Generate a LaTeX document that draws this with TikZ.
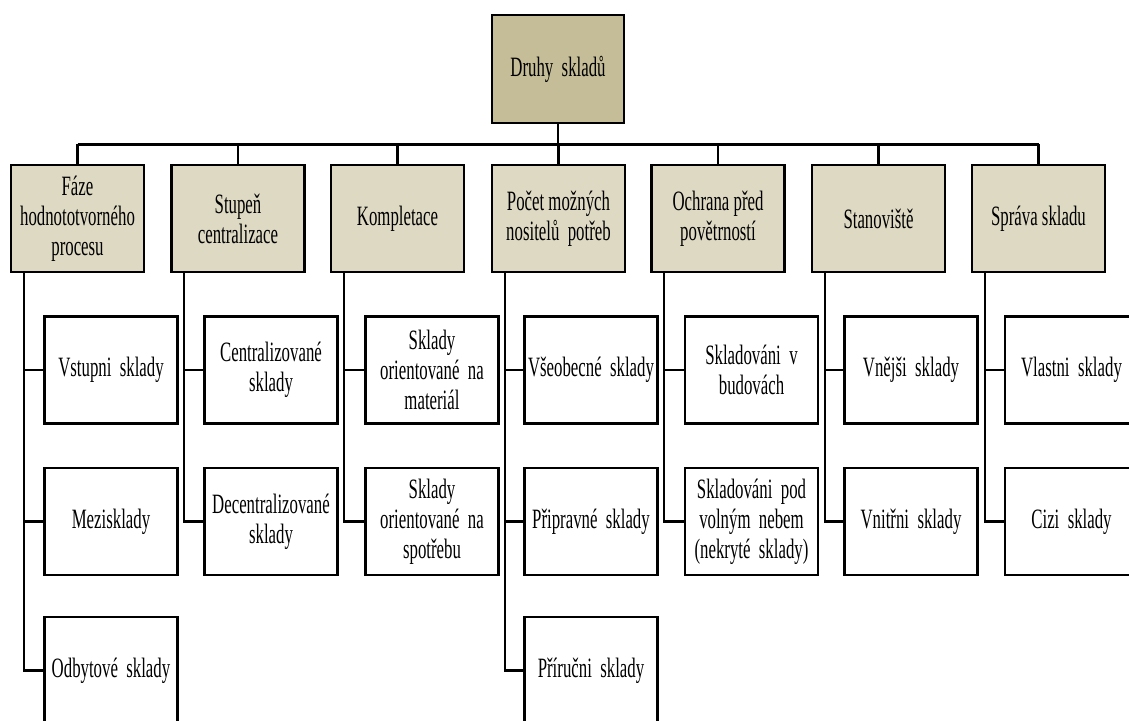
\documentclass[tikz,border=0pt]{standalone}
\usepackage{fontspec}
\setmainfont[FakeStretch=0.6]{Liberation Serif}
\usetikzlibrary{calc}

\definecolor{rootfill}{HTML}{C4BD97}
\definecolor{catfill}{HTML}{DDD9C3}

\tikzset{
  box/.style={rectangle, draw=black, line width=2.6pt, align=center,
    inner sep=0pt, minimum width=133pt, minimum height=107pt,
    font=\fontsize{28}{30}\selectfont},
  rootbox/.style={box, fill=rootfill, minimum width=132pt, minimum height=108pt},
  catbox/.style={box, fill=catfill},
  itembox/.style={box, fill=white},
  conn/.style={draw=black, line width=2.4pt},
  busline/.style={draw=black, line width=3pt},
}

\begin{document}
\begin{tikzpicture}[x=1pt, y=-1pt]
  \useasboundingbox (0,0) rectangle (1129,720);
  \clip (0,0) rectangle (1129,720);
  \fill[white] (0,0) rectangle (1129,720);

  % root
  \node[rootbox] (root) at (558,69) {Druhy\ \ skladů};

  % categories
  \node[catbox] (p1) at (77.5,218.5)  {Fáze\\hodnototvorného\\procesu};
  \node[catbox] (p2) at (238,218.5)   {Stupeň\\centralizace};
  \node[catbox] (p3) at (397.5,218.5) {Kompletace};
  \node[catbox] (p4) at (558.5,218.5) {Počet možných\\nositelů\ \ potřeb};
  \node[catbox] (p5) at (718,218.5)   {Ochrana před\\povětrností};
  \node[catbox] (p6) at (878.5,218.5) {Stanoviště};
  \node[catbox] (p7) at (1038.5,218.5){Správa skladu};

  % bus from root to categories
  \coordinate (bus) at (0,144);
  \draw[conn] (root.south) -- (root.south |- bus);
  \draw[busline] (p1.north |- bus) -- (p7.north |- bus);
  \foreach \p in {p1,p2,p3,p4,p5,p6,p7}
    \draw[conn] (\p.north) -- (\p.north |- bus);

  % items
  \node[itembox] (c11) at (111,370)   {Vstupni\ \ sklady};
  \node[itembox] (c12) at (111,521.5) {Mezisklady};
  \node[itembox] (c13) at (111,670.5) {Odbytové\ \ sklady};

  \node[itembox] (c21) at (271,370)   {Centralizované\\sklady};
  \node[itembox] (c22) at (271,521.5) {Decentralizované\\sklady};

  \node[itembox] (c31) at (432,370)   {Sklady\\orientované\ \ na\\materiál};
  \node[itembox] (c32) at (432,521.5) {Sklady\\orientované\ \ na\\spotřebu};

  \node[itembox] (c41) at (591,370)   {Všeobecné\ \ sklady};
  \node[itembox] (c42) at (591,521.5) {Připravné\ \ sklady};
  \node[itembox] (c43) at (591,670.5) {Příručni\ \ sklady};

  \node[itembox] (c51) at (751.5,370)   {Skladováni\ \ v\\budovách};
  \node[itembox] (c52) at (751.5,521.5) {Skladováni\ \ pod\\volným\ \ nebem\\(nekryté\ \ sklady)};

  \node[itembox] (c61) at (911,370)   {Vnějši\ \ sklady};
  \node[itembox] (c62) at (911,521.5) {Vnitřni\ \ sklady};

  \node[itembox] (c71) at (1071.5,370)   {Vlastni\ \ sklady};
  \node[itembox] (c72) at (1071.5,521.5) {Cizi\ \ sklady};

  % spines from each category down to its items
  \foreach \p/\c in {p1/c11,p1/c12,p1/c13,p2/c21,p2/c22,p3/c31,p3/c32,
                     p4/c41,p4/c42,p4/c43,p5/c51,p5/c52,p6/c61,p6/c62,
                     p7/c71,p7/c72}
    \draw[conn] ([xshift=14pt]\p.south west) |- (\c.west);
\end{tikzpicture}
\end{document}
